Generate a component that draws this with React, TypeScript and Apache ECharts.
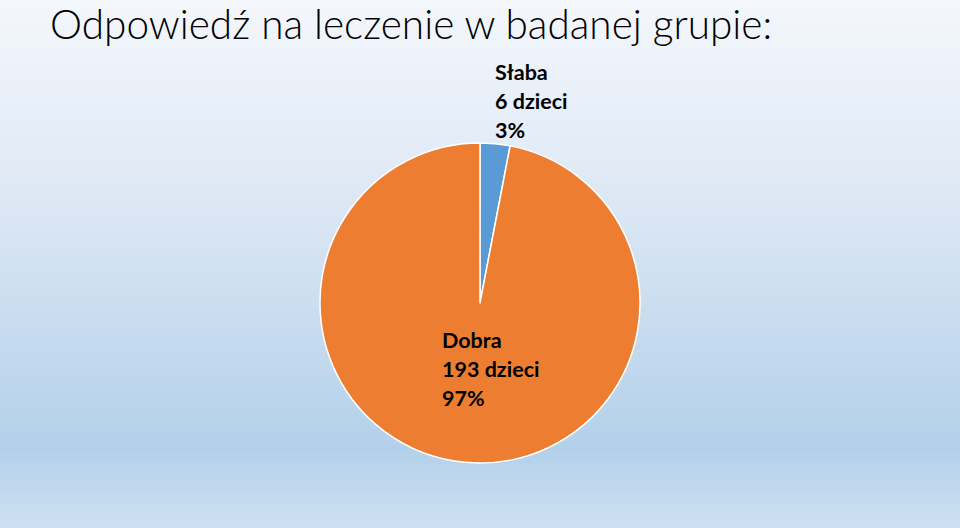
import React, { useEffect, useRef } from "react";
import * as echarts from "echarts";

const categories = ["Słaba", "Dobra"];
const counts = [6, 193];
const colors = ["#5b9bd5", "#ed7d31"];
const titleText = "Odpowiedź na leczenie w badanej grupie:";

export default function App() {
  const ref = useRef<HTMLDivElement>(null);
  useEffect(() => {
    const chart = echarts.init(ref.current!, null, { renderer: "svg" });
    chart.setOption({
      animation: false,
      backgroundColor: {
        type: "linear",
        x: 0, y: 0, x2: 0, y2: 1,
        colorStops: [
          { offset: 0, color: "#f4f7fc" },
          { offset: 0.35, color: "#dfe9f5" },
          { offset: 0.85, color: "#b3d0ea" },
          { offset: 1, color: "#cde0f1" },
        ],
      },
      title: {
        text: titleText,
        left: 50,
        top: 0,
        padding: 0,
        textStyle: {
          fontFamily: "Lato",
          fontWeight: 300,
          fontSize: 40.5,
          lineHeight: 46,
          color: "#000",
        },
      },
      series: [
        {
          type: "pie",
          center: [480, 303],
          radius: 160,
          startAngle: 90,
          clockwise: true,
          percentPrecision: 0,
          itemStyle: { borderColor: "#ffffff", borderWidth: 1.5 },
          label: {
            show: true,
            position: "inside",
            formatter: "{b}\n{c} dzieci\n{d}%",
            fontFamily: "Lato",
            fontWeight: "bold",
            fontSize: 21.5,
            lineHeight: 29,
            color: "#000",
            align: "left",
          },
          labelLine: { show: false },
          labelLayout: (p: any) =>
            p.dataIndex === 0
              ? { x: 495, y: 101, align: "left", verticalAlign: "middle" }
              : { x: 442, y: 369, align: "left", verticalAlign: "middle" },
          data: categories.map((c, i) => ({
            name: c,
            value: counts[i],
            itemStyle: { color: colors[i] },
          })),
        },
      ],
    });
    return () => chart.dispose();
  }, []);
  return (
    <div
      ref={ref}
      style={{ position: "fixed", left: 0, top: 0, width: 960, height: 528 }}
    />
  );
}
